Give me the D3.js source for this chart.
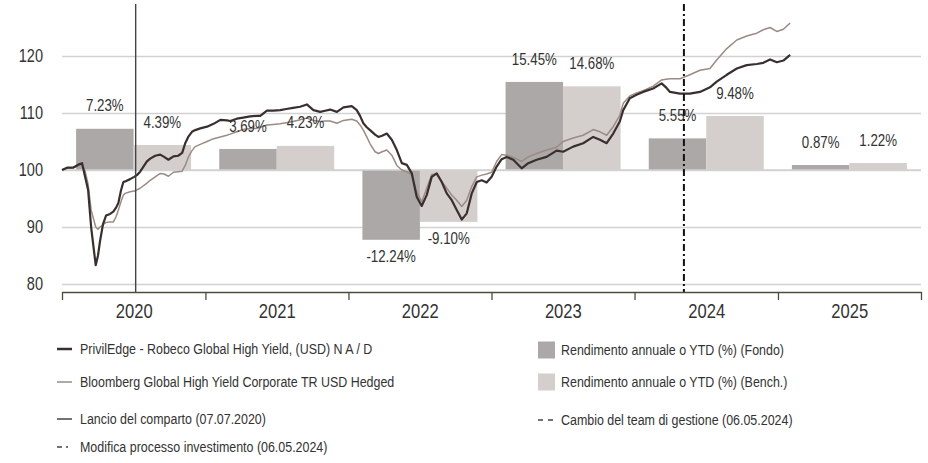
<!DOCTYPE html>
<html>
<head>
<meta charset="utf-8">
<script src="https://cdn.jsdelivr.net/npm/d3@7"></script>
<style>
  html, body { margin: 0; padding: 0; background: #ffffff; }
  svg { display: block; }
  text { font-family: "Liberation Sans", Arial, sans-serif; fill: #333; }
</style>
</head>
<body>
<svg id="chart" width="928" height="463"></svg>
<script>
// ---------- DATA ----------
// time points (decimal years)
const times = [2020.000,2020.035,2020.077,2020.119,2020.140,2020.161,2020.182,2020.203,2020.235,2020.251,2020.265,2020.286,2020.307,2020.335,2020.358,2020.377,2020.393,2020.412,2020.428,2020.440,2020.475,2020.503,2020.522,2020.545,2020.592,2020.615,2020.650,2020.685,2020.712,2020.742,2020.777,2020.810,2020.838,2020.859,2020.880,2020.906,2020.929,2020.964,2021.011,2021.057,2021.104,2021.150,2021.173,2021.220,2021.264,2021.313,2021.360,2021.383,2021.430,2021.474,2021.523,2021.565,2021.613,2021.662,2021.709,2021.755,2021.802,2021.837,2021.872,2021.919,2021.965,2022.023,2022.058,2022.081,2022.104,2022.128,2022.151,2022.186,2022.209,2022.235,2022.268,2022.303,2022.338,2022.373,2022.408,2022.443,2022.477,2022.512,2022.547,2022.582,2022.617,2022.652,2022.687,2022.722,2022.757,2022.792,2022.827,2022.862,2022.897,2022.932,2022.966,2023.001,2023.036,2023.071,2023.106,2023.152,2023.211,2023.257,2023.316,2023.385,2023.455,2023.501,2023.571,2023.641,2023.711,2023.758,2023.805,2023.851,2023.897,2023.921,2023.967,2024.014,2024.060,2024.130,2024.189,2024.219,2024.247,2024.317,2024.386,2024.456,2024.526,2024.573,2024.643,2024.713,2024.782,2024.852,2024.898,2024.945,2024.992,2025.038,2025.085];
const fundIndex = [100.0,100.4,100.4,101.0,101.2,98.8,96.5,90.0,83.3,85.0,87.5,90.5,92.0,92.3,92.7,93.4,94.2,96.5,97.9,98.0,98.4,98.8,99.1,99.7,101.5,102.0,102.5,102.7,102.3,101.8,102.4,102.5,103.0,104.7,105.8,106.7,107.0,107.3,107.6,108.1,108.8,108.7,108.6,109.0,109.2,109.4,109.5,109.5,110.4,110.4,110.5,110.7,110.9,111.1,111.5,110.5,110.2,110.4,110.6,110.2,111.0,111.2,110.5,109.5,108.2,107.5,107.0,106.2,105.8,106.0,106.4,105.3,103.5,101.2,100.9,99.4,95.3,93.7,95.6,98.8,99.4,97.9,95.9,94.7,93.0,91.3,92.4,95.9,97.9,98.2,97.8,98.8,100.6,101.9,102.3,101.8,100.3,101.2,101.8,102.3,103.4,103.2,104.1,104.7,105.8,105.3,104.7,106.4,108.5,110.5,112.6,113.2,113.7,114.3,115.2,114.5,113.7,113.4,113.4,113.7,114.5,115.5,116.7,117.8,118.4,118.6,118.8,119.4,118.9,119.2,120.2];
const benchIndex = [100.0,100.3,100.4,100.8,101.0,99.8,97.5,93.0,90.0,89.6,90.0,90.4,90.8,90.9,90.9,91.8,93.0,94.5,95.6,95.9,96.2,96.3,96.5,96.8,97.7,98.2,98.8,99.4,99.3,98.9,99.6,99.7,99.8,100.8,102.2,103.4,104.1,104.5,105.0,105.5,105.8,106.1,106.3,106.7,107.1,107.3,107.3,107.5,107.9,108.0,108.1,108.3,108.5,108.8,109.1,108.7,108.5,108.6,108.6,108.2,108.7,108.9,108.6,107.9,107.0,105.8,104.6,103.2,102.9,103.2,103.5,102.6,100.8,100.0,99.7,99.1,96.2,94.4,96.8,99.2,99.3,98.0,96.8,95.6,94.7,93.6,94.7,97.1,98.8,99.1,99.3,99.6,101.5,102.7,102.6,102.2,101.5,102.3,102.9,103.5,104.0,105.0,105.6,106.1,107.1,106.7,106.1,107.6,109.6,111.7,113.0,113.5,113.9,114.7,115.8,115.9,116.0,116.0,116.7,117.5,117.8,119.3,121.3,122.8,123.5,124.0,124.6,125.0,124.3,124.7,125.8];

const years = ["2020","2021","2022","2023","2024","2025"];
const fundReturns = [7.23, 3.69, -12.24, 15.45, 5.55, 0.87];
const benchReturns = [4.39, 4.23, -9.10, 14.68, 9.48, 1.22];
const yTicks = [80, 90, 100, 110, 120];
const launchDate = "2020-07-07";
const changeDate = "2024-05-06";

const legendLines = [
  "PrivilEdge - Robeco Global High Yield, (USD) N A / D",
  "Bloomberg Global High Yield Corporate TR USD Hedged",
  "Lancio del comparto (07.07.2020)",
  "Modifica processo investimento (06.05.2024)"
];
const legendRight = [
  "Rendimento annuale o YTD (%) (Fondo)",
  "Rendimento annuale o YTD (%) (Bench.)",
  "Cambio del team di gestione (06.05.2024)"
];

// ---------- STYLE ----------
const C = {
  fundLine: "#3a2f2f",
  benchLine: "#9b8b84",
  fundBar: "#aca8a7",
  benchBar: "#d4cfcc",
  grid: "#d2d2d2",
  axis: "#4d4d3f",
  text: "#333333"
};
const SX = 0.83; // horizontal condensing of text

function narrow(sel, sx) {
  sel.each(function () {
    const t = d3.select(this);
    const xv = +t.attr("x") || 0;
    t.attr("x", xv / sx).attr("transform", `scale(${sx},1)`);
  });
}

const svg = d3.select("#chart");
const pL = 62, pR = 921, pT = 4, pB = 292;

function toDate(t) {
  const yy = Math.floor(t);
  const start = new Date(yy, 0, 1), end = new Date(yy + 1, 0, 1);
  return new Date(start.getTime() + (t - yy) * (end - start));
}
const parse = d3.timeParse("%Y-%m-%d");

const x = d3.scaleTime()
  .domain([new Date(2020, 0, 1), new Date(2026, 0, 1)])
  .range([pL, pR]);
const y = d3.scaleLinear().domain([78.6, 129.12]).range([pB, pT]);

const xBand = d3.scaleBand().domain(years).range([pL, pR]).paddingInner(0).paddingOuter(0);
const xSub = d3.scaleBand().domain(["fund", "bench"]).range([0, xBand.bandwidth()]).paddingInner(0).paddingOuter(0.245);

// ---------- GRID / Y AXIS ----------
const yAxis = d3.axisLeft(y).tickValues(yTicks).tickSizeInner(-(pR - pL)).tickSizeOuter(0).tickPadding(19);
const gy = svg.append("g").attr("transform", `translate(${pL},0)`).call(yAxis);
gy.select(".domain").remove();
gy.selectAll(".tick line").attr("stroke", C.grid).attr("stroke-width", 1.3);
gy.selectAll(".tick text").attr("font-size", 17.5).attr("fill", C.text)
  .style("font-family", '"Liberation Sans", Arial, sans-serif');
narrow(gy.selectAll(".tick text"), SX);

// ---------- BARS ----------
const barData = [];
years.forEach((yr, i) => {
  barData.push({ year: yr, key: "fund", v: fundReturns[i] });
  barData.push({ year: yr, key: "bench", v: benchReturns[i] });
});
const gBars = svg.append("g");
gBars.selectAll("rect").data(barData).join("rect")
  .attr("x", d => xBand(d.year) + xSub(d.key))
  .attr("width", xSub.bandwidth())
  .attr("y", d => y(Math.max(100, 100 + d.v)))
  .attr("height", d => Math.abs(y(100 + d.v) - y(100)))
  .attr("fill", d => d.key === "fund" ? C.fundBar : C.benchBar);

svg.append("line").attr("x1", pL).attr("x2", pR).attr("y1", y(100)).attr("y2", y(100))
  .attr("stroke", C.grid).attr("stroke-width", 1.3);

// ---------- LINES ----------
const line = d3.line().x(d => x(d.t)).y(d => y(d.v)).curve(d3.curveLinear);
const benchSeries = times.map((t, i) => ({ t: toDate(t), v: benchIndex[i] }));
const fundSeries = times.map((t, i) => ({ t: toDate(t), v: fundIndex[i] }));
svg.append("path").datum(benchSeries).attr("d", line).attr("fill", "none")
  .attr("stroke", C.benchLine).attr("stroke-width", 1.5).attr("stroke-linejoin", "round");
svg.append("path").datum(fundSeries).attr("d", line).attr("fill", "none")
  .attr("stroke", C.fundLine).attr("stroke-width", 2.2).attr("stroke-linejoin", "round");

// ---------- BAR LABELS ----------
const labs = svg.append("g").selectAll("text").data(barData).join("text")
  .attr("x", d => xBand(d.year) + xSub(d.key) + xSub.bandwidth() / 2)
  .attr("y", d => d.v >= 0 ? y(100 + d.v) - 23 : y(100 + d.v) + 17)
  .attr("dy", "0.35em")
  .attr("text-anchor", "middle")
  .attr("font-size", 16)
  .text(d => d.v.toFixed(2) + "%");
narrow(labs, SX);

// ---------- EVENT LINES ----------
const xl = x(parse(launchDate));
svg.append("line").attr("x1", xl).attr("x2", xl).attr("y1", pT).attr("y2", pB)
  .attr("stroke", "#444").attr("stroke-width", 1.4);
const xc = x(parse(changeDate));
svg.append("line").attr("x1", xc).attr("x2", xc).attr("y1", pT).attr("y2", pB)
  .attr("stroke", "#111").attr("stroke-width", 2).attr("stroke-dasharray", "7,3,2,3");

// ---------- X AXIS ----------
const xAxis = d3.axisBottom(x).tickValues(d3.range(2020, 2027).map(yy => new Date(yy, 0, 1)))
  .tickSize(8).tickSizeOuter(0).tickFormat("");
const gx = svg.append("g").attr("transform", `translate(0,${pB})`).call(xAxis);
gx.select(".domain").attr("stroke", C.axis).attr("stroke-width", 1.3);
gx.selectAll(".tick line").attr("stroke", C.axis).attr("stroke-width", 1.3);

const xLab = d3.axisBottom(x).tickValues(years.map(yy => new Date(+yy, 6, 2)))
  .tickSize(0).tickPadding(18).tickFormat(d3.timeFormat("%Y"));
const gxl = svg.append("g").attr("transform", `translate(0,${pB})`).call(xLab);
gxl.select(".domain").remove();
gxl.selectAll(".tick text").attr("font-size", 20).attr("fill", C.text).attr("dy", "0.35em")
  .attr("y", 19)
  .style("font-family", '"Liberation Sans", Arial, sans-serif');
narrow(gxl.selectAll(".tick text"), SX);

// ---------- LEGEND ----------
const lg = svg.append("g").attr("font-size", 15);
const leftRows = [349, 382, 419, 447];
lg.append("line").attr("x1", 57).attr("x2", 72).attr("y1", leftRows[0]).attr("y2", leftRows[0])
  .attr("stroke", C.fundLine).attr("stroke-width", 2.5);
lg.append("line").attr("x1", 57).attr("x2", 72).attr("y1", leftRows[1]).attr("y2", leftRows[1])
  .attr("stroke", C.benchLine).attr("stroke-width", 1.5);
lg.append("line").attr("x1", 57).attr("x2", 72).attr("y1", leftRows[2]).attr("y2", leftRows[2])
  .attr("stroke", "#444").attr("stroke-width", 1.5);
lg.append("line").attr("x1", 57).attr("x2", 72).attr("y1", leftRows[3]).attr("y2", leftRows[3])
  .attr("stroke", "#444").attr("stroke-width", 1.5).attr("stroke-dasharray", "5,4,2,4");
const lt1 = lg.append("g").selectAll("text").data(legendLines).join("text")
  .attr("x", 80).attr("y", (d, i) => leftRows[i]).attr("dy", "0.35em").text(d => d);
narrow(lt1, SX);

const rightRows = [350, 382, 420];
lg.append("rect").attr("x", 538).attr("y", rightRows[0] - 8.5).attr("width", 17).attr("height", 17).attr("fill", C.fundBar);
lg.append("rect").attr("x", 538).attr("y", rightRows[1] - 8.5).attr("width", 17).attr("height", 17).attr("fill", C.benchBar);
lg.append("line").attr("x1", 538).attr("x2", 556).attr("y1", rightRows[2]).attr("y2", rightRows[2])
  .attr("stroke", "#444").attr("stroke-width", 1.5).attr("stroke-dasharray", "5,5");
const lt2 = lg.append("g").selectAll("text").data(legendRight).join("text")
  .attr("x", 561).attr("y", (d, i) => rightRows[i]).attr("dy", "0.35em").text(d => d);
narrow(lt2, SX);
</script>
</body>
</html>
